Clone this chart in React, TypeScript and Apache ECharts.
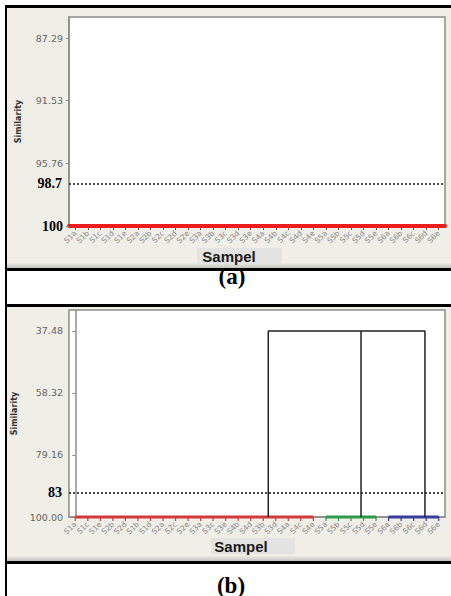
import React, { useEffect, useRef } from 'react';
import * as echarts from 'echarts';

// ---------- Panel (a) ----------
const samplesA = ['S1a','S1b','S1c','S1d','S1e','S2a','S2b','S2c','S2d','S2e','S3a','S3b','S3c','S3d','S3e','S4a','S4b','S4c','S4d','S4e','S5a','S5b','S5c','S5d','S5e','S6a','S6b','S6c','S6d','S6e'];
const similarityA = [100,100,100,100,100,100,100,100,100,100,100,100,100,100,100,100,100,100,100,100,100,100,100,100,100,100,100,100,100,100];
const yTicksA = [87.29, 91.53, 95.76, 100];
const yRangeA = [85.87, 100];
const cutA = { label: '98.7', level: 97.16 };

// ---------- Panel (b) ----------
const samplesB = ['S1a','S1c','S1e','S2b','S2d','S1b','S1d','S2a','S2c','S2e','S3a','S3c','S3e','S4b','S4d','S3b','S3d','S4a','S4c','S4e','S5a','S5b','S5c','S5d','S5e','S6a','S6b','S6c','S6d','S6e'];
const clusterB = [0,0,0,0,0,0,0,0,0,0,0,0,0,0,0,0,0,0,0,0,1,1,1,1,1,2,2,2,2,2];
const clusterLinkX = [15.4, 22.8, 27.9];
const leafSimilarityB = 100;
const joinSimilarityB = 37.48;
const yTicksB = [37.48, 58.32, 79.16, 100];
const yRangeB = [30.43, 100];
const cutB = { label: '83', level: 91.93 };

const clusterColors = ['#d23a3c', '#2f9a4c', '#3a3d9a'];

const BG = '#efeee7';
const tickFont = 'DejaVu Sans';

function clusterSegments() {
  const segs: { k: number; from: number; to: number }[] = [];
  clusterB.forEach((k, i) => {
    const s = segs.find((x) => x.k === k);
    if (s) s.to = i; else segs.push({ k, from: i, to: i });
  });
  return segs;
}

export default function App() {
  const ref = useRef<HTMLDivElement>(null);
  useEffect(() => {
    document.body.style.margin = '0';
    const chart = echarts.init(ref.current!, null, { renderer: 'svg' });
    const segs = clusterSegments();

    const yAxisCommon = (ticks: number[], range: number[], fmt: (v: number) => string) => ({
      type: 'value',
      inverse: true,
      min: range[0],
      max: range[1],
      name: 'Similarity',
      nameLocation: 'middle',
      nameGap: 47,
      nameRotate: 90,
      nameTextStyle: { fontFamily: tickFont, fontWeight: 'bold', fontSize: 8, color: '#333' },
      splitLine: { show: false },
      axisLine: { show: true, lineStyle: { color: '#8c8c8c', width: 1.5 } },
      axisTick: { show: true, length: 3, lineStyle: { color: '#888' }, customValues: ticks },
      axisLabel: {
        customValues: ticks,
        margin: 6,
        fontFamily: tickFont,
        fontSize: 9.5,
        color: '#666',
        formatter: fmt,
        rich: { b: { fontFamily: 'Liberation Serif', fontWeight: 'bold', fontSize: 14, color: '#000' } },
      },
    });

    const markLineOf = (cut: { label: string; level: number }) => ({
      symbol: 'none',
      silent: true,
      lineStyle: { type: [2, 2], color: '#111', width: 1.5 },
      label: {
        show: true,
        position: 'start',
        distance: 7,
        formatter: cut.label,
        fontFamily: 'Liberation Serif',
        fontWeight: 'bold',
        fontSize: 14,
        color: '#000',
      },
      data: [{ yAxis: cut.level }],
    });

    const linkPath = [
      [clusterLinkX[0], leafSimilarityB],
      [clusterLinkX[0], joinSimilarityB],
      [clusterLinkX[2], joinSimilarityB],
      [clusterLinkX[2], leafSimilarityB],
    ];
    const midLink = [
      [clusterLinkX[1], joinSimilarityB],
      [clusterLinkX[1], leafSimilarityB],
    ];

    const blackLines = [
      { x: 5, y: 5, w: 446, h: 3 },
      { x: 5, y: 5, w: 2, h: 591 },
      { x: 5, y: 268, w: 446, h: 3 },
      { x: 5, y: 304, w: 446, h: 3 },
      { x: 5, y: 561, w: 446, h: 3 },
    ];

    const xLabel = { interval: 0, rotate: 45, margin: 6, fontFamily: tickFont, fontSize: 7.5, color: '#8a8a8a' };

    const option: any = {
      animation: false,
      backgroundColor: '#fff',
      grid: [
        { left: 69, top: 17, width: 376, height: 209, show: true, backgroundColor: '#fff', borderColor: '#8c8c8c', borderWidth: 1.5, containLabel: false, outerBoundsMode: 'none' },
        { left: 69, top: 310, width: 376, height: 207, show: true, backgroundColor: '#fff', borderColor: '#8c8c8c', borderWidth: 1.5, containLabel: false, outerBoundsMode: 'none' },
      ],
      xAxis: [
        {
          type: 'category', gridIndex: 0, data: samplesA, boundaryGap: true,
          axisLine: { show: true, lineStyle: { color: '#ee1c1c', width: 4 } },
          axisTick: { show: true, alignWithLabel: true, length: 4, lineStyle: { color: '#8a5050' } },
          axisLabel: xLabel,
        },
        {
          type: 'category', gridIndex: 1, data: samplesB, boundaryGap: true,
          axisLine: { show: true, lineStyle: { color: '#8c8c8c', width: 1.5 } },
          axisTick: { show: false },
          axisLabel: xLabel,
        },
        { type: 'value', gridIndex: 1, min: -0.5, max: samplesB.length - 0.5, show: false },
      ],
      yAxis: [
        { gridIndex: 0, ...yAxisCommon(yTicksA, yRangeA, (v: number) => (v === 100 ? '{b|100}' : v.toFixed(2))) },
        { gridIndex: 1, ...yAxisCommon(yTicksB, yRangeB, (v: number) => v.toFixed(2)) },
      ],
      series: [
        {
          type: 'line', xAxisIndex: 0, yAxisIndex: 0, data: similarityA, symbol: 'none', clip: false,
          lineStyle: { color: '#ee1c1c', width: 4 },
          markLine: markLineOf(cutA),
        },
        ...segs.map((s) => ({
          type: 'line', xAxisIndex: 2, yAxisIndex: 1, symbol: 'none', clip: false,
          data: [[s.from, leafSimilarityB], [s.to, leafSimilarityB]],
          lineStyle: { color: clusterColors[s.k], width: 3 },
          z: 3,
        })),
        {
          type: 'line', xAxisIndex: 2, yAxisIndex: 1, symbol: 'none', clip: false,
          data: linkPath, lineStyle: { color: '#222', width: 1.5 }, z: 4,
          markLine: markLineOf(cutB),
        },
        {
          type: 'line', xAxisIndex: 2, yAxisIndex: 1, symbol: 'none', clip: false,
          data: midLink, lineStyle: { color: '#222', width: 1.5 }, z: 4,
        },
        {
          type: 'custom', xAxisIndex: 2, yAxisIndex: 1, clip: false, z: 5,
          data: samplesB.map((_, i) => [i, leafSimilarityB, clusterB[i]]),
          renderItem: (_p: any, api: any) => {
            const p = api.coord([api.value(0), api.value(1)]);
            return {
              type: 'line',
              shape: { x1: p[0], y1: p[1], x2: p[0], y2: p[1] + 4 },
              style: { stroke: clusterColors[api.value(2)], lineWidth: 1.2 },
            };
          },
        },
      ],
      graphic: [
        { type: 'rect', z: -10, shape: { x: 7, y: 8, width: 444, height: 260 }, style: { fill: BG } },
        { type: 'rect', z: -10, shape: { x: 7, y: 307, width: 444, height: 254 }, style: { fill: BG } },
        { type: 'text', z: 4, style: { text: '(a)', x: 232, y: 276, align: 'center', verticalAlign: 'middle', fontFamily: 'Liberation Serif', fontWeight: 'bold', fontSize: 23, fill: '#000' } },
        { type: 'text', z: 4, style: { text: '(b)', x: 231, y: 585, align: 'center', verticalAlign: 'middle', fontFamily: 'Liberation Serif', fontWeight: 'bold', fontSize: 23, fill: '#000' } },
        {
          type: 'rect', z: 5, shape: { x: 7, y: 250, width: 444, height: 18 },
          style: { fill: new echarts.graphic.LinearGradient(0, 0, 0, 1, [{ offset: 0, color: BG }, { offset: 0.7, color: BG }, { offset: 1, color: '#c4c4c2' }]) },
        },
        {
          type: 'rect', z: 5, shape: { x: 7, y: 549, width: 444, height: 12 },
          style: { fill: new echarts.graphic.LinearGradient(0, 0, 0, 1, [{ offset: 0, color: BG }, { offset: 0.55, color: BG }, { offset: 1, color: '#c4c4c2' }]) },
        },
        { type: 'rect', z: 6, shape: { x: 197, y: 248, width: 85, height: 16 }, style: { fill: '#e3e3e1' } },
        { type: 'rect', z: 6, shape: { x: 211, y: 538, width: 84, height: 16 }, style: { fill: '#e3e3e1' } },
        { type: 'text', z: 7, style: { text: 'Sampel', x: 229, y: 256, align: 'center', verticalAlign: 'middle', fontFamily: 'Liberation Sans', fontWeight: 'bold', fontSize: 15, fill: '#1a1a1a' } },
        { type: 'text', z: 7, style: { text: 'Sampel', x: 241, y: 546, align: 'center', verticalAlign: 'middle', fontFamily: 'Liberation Sans', fontWeight: 'bold', fontSize: 15, fill: '#1a1a1a' } },
        ...blackLines.map((l) => ({ type: 'rect', z: 100, shape: { x: l.x, y: l.y, width: l.w, height: l.h }, style: { fill: '#000' } })),
      ],
    };
    chart.setOption(option);
    return () => chart.dispose();
  }, []);
  return <div ref={ref} style={{ position: 'absolute', left: 0, top: 0, width: 451, height: 596 }} />;
}
